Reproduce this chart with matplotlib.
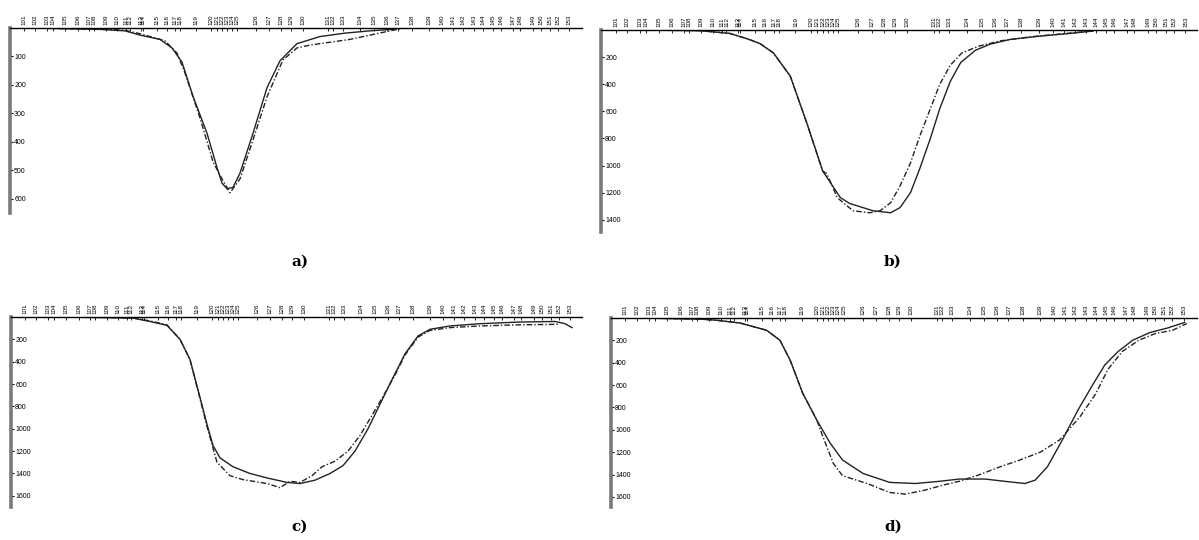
import matplotlib.pyplot as plt
import numpy as np

# station numbers along the line and their positions (distance units)
stations = [101, 102, 103, 104, 105, 106, 107, 108, 109, 110, 111, 112, 113, 114,
            115, 116, 117, 118, 119, 120, 121, 122, 123, 124, 125, 126, 127, 128,
            129, 130, 131, 132, 133, 134, 135, 136, 137, 138, 139, 140, 141, 142,
            143, 144, 145, 146, 147, 148, 149, 150, 151, 152, 153]
station_pos = [14, 25, 37, 43, 55, 68, 79, 84, 96, 107, 116, 120, 131, 133,
               147, 157, 165, 170, 186, 201, 207, 212, 217, 222, 227, 246, 259, 271,
               281, 293, 318, 323, 333, 350, 364, 377, 388, 402, 419, 432, 443, 453,
               464, 473, 483, 491, 503, 510, 523, 531, 540, 548, 559]

# a)
a_solid_x = [15, 50, 90, 115, 130, 150, 162, 172, 183, 197, 207, 212, 217, 223, 230,
             243, 257, 270, 287, 310, 335, 360, 385]
a_solid_y = [0, 2, 5, 10, 25, 40, 70, 120, 240, 370, 490, 545, 565, 560, 510,
             370, 210, 115, 55, 30, 18, 10, 4]
a_dash_x = [15, 50, 90, 115, 130, 155, 167, 175, 190, 203, 212, 220, 230, 243, 257,
            273, 287, 300, 320, 340, 360, 380, 390]
a_dash_y = [0, 2, 4, 8, 20, 45, 88, 158, 316, 470, 530, 579, 530, 393, 242,
            112, 70, 60, 50, 40, 25, 10, 3]

# b)
b_solid_x = [37, 95, 123, 140, 152, 165, 181, 197, 212, 229, 238, 260, 277, 286,
             296, 305, 315, 324, 334, 344, 358, 372, 391, 420, 449, 470]
b_solid_y = [0, 5, 25, 65, 100, 170, 340, 690, 1040, 1237, 1280, 1333, 1348, 1310,
             1200, 1020, 800, 580, 380, 240, 150, 105, 70, 45, 25, 8]
b_dash_x = [37, 95, 123, 140, 152, 165, 181, 197, 212, 216, 226, 241, 257, 267, 277,
            286, 296, 305, 315, 324, 334, 345, 361, 382, 411, 439, 473]
b_dash_y = [0, 5, 25, 65, 100, 170, 340, 690, 1040, 1060, 1237, 1333, 1348, 1333, 1274,
            1150, 980, 780, 580, 400, 260, 170, 120, 80, 50, 30, 5]

# c)
c_solid_x = [44, 89, 122, 139, 156, 169, 179, 189, 196, 202, 209, 222, 239, 256, 276,
             289, 304, 319, 332, 344, 357, 369, 381, 394, 407, 419, 439, 469, 509,
             544, 554, 561]
c_solid_y = [0, 5, 10, 40, 75, 200, 380, 720, 960, 1150, 1260, 1340, 1400, 1440, 1480,
             1490, 1460, 1400, 1330, 1200, 1000, 780, 560, 330, 170, 110, 80, 60, 45,
             40, 60, 95]
c_dash_x = [44, 89, 122, 139, 156, 169, 179, 189, 196, 206, 219, 232, 256, 269, 279,
            289, 301, 311, 324, 337, 349, 361, 374, 384, 394, 407, 419, 439, 469, 509, 549]
c_dash_y = [0, 3, 8, 35, 70, 200, 380, 730, 980, 1300, 1420, 1455, 1490, 1527, 1470,
            1480, 1420, 1340, 1290, 1200, 1060, 880, 680, 520, 340, 180, 120, 95, 80, 70, 65]

# d)
d_solid_x = [28, 87, 103, 126, 152, 165, 175, 187, 201, 214, 226, 246, 272, 297, 321,
             340, 365, 384, 404, 414, 426, 440, 456, 470, 482, 495, 509, 526, 543, 560]
d_solid_y = [0, 10, 20, 45, 110, 200, 380, 670, 915, 1120, 1270, 1390, 1470, 1480, 1460,
             1440, 1440, 1460, 1480, 1450, 1330, 1100, 820, 600, 420, 300, 200, 130, 90, 40]
d_dash_x = [28, 87, 103, 126, 152, 165, 175, 187, 201, 207, 217, 226, 250, 272, 287,
            306, 326, 340, 360, 380, 399, 419, 438, 458, 473, 485, 499, 515, 531, 548, 562]
d_dash_y = [0, 10, 20, 45, 110, 200, 380, 670, 915, 1065, 1300, 1410, 1480, 1560, 1575,
            1540, 1490, 1460, 1400, 1330, 1270, 1200, 1090, 880, 680, 460, 300, 200, 140, 110, 50]


def draw_panel(rect, sx, sy, dx, dy, ymax, yticks, xmax, tag, tag_xy):
    ax = fig.add_axes(rect)
    ax.plot(sx, sy, color='#222222', lw=1.0, ls='-')
    ax.plot(dx, dy, color='#222222', lw=1.0, ls=(0, (4, 1.5, 1, 1.5)))
    ax.set_xlim(0, xmax)
    ax.set_ylim(ymax, 0)

    ax.xaxis.tick_top()
    ax.set_xticks(station_pos)
    ax.set_xticklabels([str(s) for s in stations])
    ax.tick_params(axis='x', direction='in', length=2.5, width=0.6, pad=2,
                   labelsize=4.5, labelrotation=90)
    ax.set_yticks(yticks)
    ax.set_yticklabels([str(v) for v in yticks])
    ax.tick_params(axis='y', direction='in', length=2.5, width=0.8, pad=-3,
                   labelsize=5)
    for lbl in ax.get_yticklabels():
        lbl.set_horizontalalignment('left')

    for side in ['bottom', 'right']:
        ax.spines[side].set_visible(False)
    ax.spines['top'].set_linewidth(1.0)
    ax.spines['left'].set_color('#7a7a7a')
    ax.spines['left'].set_linewidth(2.6)
    ax.set_facecolor('none')

    fig.text(tag_xy[0], tag_xy[1], tag, ha='center', va='center',
             fontsize=11, fontweight='bold', family='DejaVu Serif')
    return ax


fig = plt.figure(figsize=(11.99, 5.4), dpi=100)
plt.rcParams['font.family'] = ['Liberation Sans', 'DejaVu Sans']

W, H = 1199.0, 540.0

def r(l, t, rt, b):
    return [l / W, 1 - b / H, (rt - l) / W, (b - t) / H]

draw_panel(r(10, 28, 582, 213), a_solid_x, a_solid_y, a_dash_x, a_dash_y,
           650, [100, 200, 300, 400, 500, 600], 572, 'a)', (300 / W, 1 - 262 / H))
draw_panel(r(601, 30, 1197, 232), b_solid_x, b_solid_y, b_dash_x, b_dash_y,
           1490, [200, 400, 600, 800, 1000, 1200, 1400], 570, 'b)', (893 / W, 1 - 262 / H))
draw_panel(r(11, 317, 582, 507), c_solid_x, c_solid_y, c_dash_x, c_dash_y,
           1700, [200, 400, 600, 800, 1000, 1200, 1400, 1600], 571, 'c)', (300 / W, 1 - 527 / H))
draw_panel(r(611, 318, 1197, 507), d_solid_x, d_solid_y, d_dash_x, d_dash_y,
           1690, [200, 400, 600, 800, 1000, 1200, 1400, 1600], 572, 'd)', (893 / W, 1 - 527 / H))

plt.savefig('out.png', dpi=100)
